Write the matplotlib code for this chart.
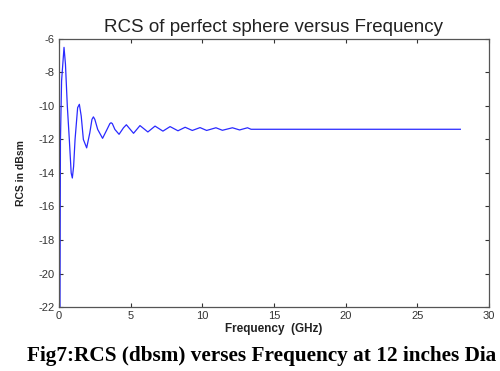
import matplotlib
matplotlib.use('Agg')
import matplotlib.pyplot as plt

plt.rcParams['axes.unicode_minus'] = False

# values
freq_ghz = [0.07, 0.10, 0.18, 0.35, 0.45, 0.58, 0.72, 0.85, 0.93, 1.02, 1.12, 1.30, 1.42, 1.55,
            1.70, 1.93, 2.15, 2.30, 2.40, 2.50, 2.70, 3.04, 3.35, 3.55, 3.63, 3.72, 3.90, 4.19,
            4.50, 4.70, 5.20, 5.65, 6.20, 6.70, 7.25, 7.75, 8.30, 8.80,
            9.30, 9.84, 10.30, 10.95, 11.40, 12.10, 12.60, 13.15, 13.40, 28.0]
rcs_dbsm = [-22.0, -12.1, -8.5, -6.5, -7.5, -10.0, -12.0, -14.0, -14.3, -13.6, -12.0, -10.1, -9.9, -10.6,
            -12.0, -12.5, -11.6, -10.8, -10.65, -10.8, -11.4, -11.93, -11.4, -11.05, -11.0, -11.05, -11.4, -11.69,
            -11.3, -11.12, -11.63, -11.17, -11.55, -11.2, -11.5, -11.23, -11.48, -11.27,
            -11.46, -11.29, -11.46, -11.3, -11.45, -11.3, -11.43, -11.3, -11.39, -11.39]
xticks = [0, 5, 10, 15, 20, 25, 30]
yticks = [-6, -8, -10, -12, -14, -16, -18, -20, -22]

fig = plt.figure(figsize=(5.0, 3.71), dpi=100)
ax = fig.add_axes([0.118, 0.1725, 0.86, 0.7224])
ax.plot(freq_ghz, rcs_dbsm, color='#2a2aff', lw=0.9)
ax.set_xlim(0, 30)
ax.set_ylim(-22, -6)
ax.set_xticks(xticks)
ax.set_yticks(yticks)
ax.tick_params(direction='in', top=True, right=True, length=3, width=0.8,
               labelsize=8, colors='#333333', pad=3)
for s in ax.spines.values():
    s.set_color('#555555')
    s.set_linewidth(0.9)
for lbl in ax.get_xticklabels() + ax.get_yticklabels():
    lbl.set_family('Liberation Sans')

ax.set_title('RCS of perfect sphere versus Frequency', fontsize=13.5,
             family='Liberation Sans', color='#222222', pad=5)
ax.set_xlabel('Frequency  (GHz)', fontsize=8.5, fontweight='bold',
              family='Liberation Sans', color='#222222', labelpad=1)
ax.set_ylabel('RCS in dBsm', fontsize=7.5, fontweight='bold',
              family='Liberation Sans', color='#222222', labelpad=9)

fig.text(0.524, 0.04, 'Fig7:RCS (dbsm) verses Frequency at 12 inches Dia',
         ha='center', va='center', fontsize=15.3, fontweight='bold',
         family='Liberation Serif')

fig.savefig('out.png', dpi=100)
